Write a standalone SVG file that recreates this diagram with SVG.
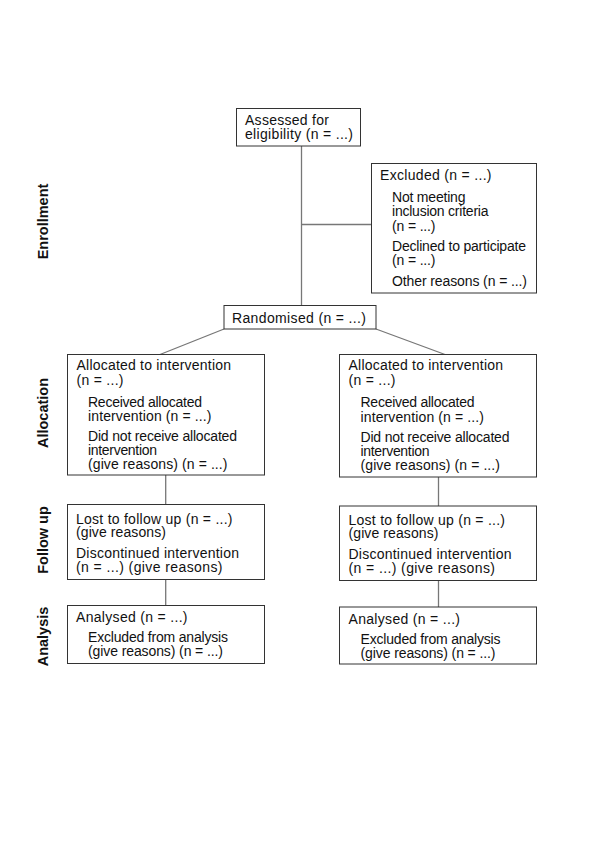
<svg xmlns="http://www.w3.org/2000/svg" width="600" height="849" viewBox="0 0 600 849">
<style>
.box{fill:#fff;stroke:#333;stroke-width:1}
.t{font-family:"Liberation Sans",Arial,sans-serif;font-size:14px;fill:#111}
.lbl{font-family:"Liberation Sans",Arial,sans-serif;font-size:14.5px;font-weight:bold;fill:#111;text-anchor:middle}
.c{stroke:#777;stroke-width:1.3;fill:none}
</style>
<rect width="600" height="849" fill="#fff"/>
<g id="connectors">
<line class="c" x1="301.5" y1="146" x2="301.5" y2="305.5"/>
<line class="c" x1="301.5" y1="224.5" x2="371.5" y2="224.5"/>
<line class="c" x1="224" y1="329" x2="160" y2="354.5"/>
<line class="c" x1="376" y1="329" x2="445" y2="354.5"/>
<line class="c" x1="165.7" y1="475" x2="165.7" y2="504.5"/>
<line class="c" x1="165.7" y1="579.5" x2="165.7" y2="605.5"/>
<line class="c" x1="438.5" y1="477" x2="438.5" y2="506"/>
<line class="c" x1="438.5" y1="580.5" x2="438.5" y2="607"/>
</g>
<g id="labels">
<text class="lbl" transform="translate(47.5,221.5) rotate(-90)">Enrollment</text>
<text class="lbl" transform="translate(47.5,413) rotate(-90)">Allocation</text>
<text class="lbl" transform="translate(47.5,540) rotate(-90)">Follow up</text>
<text class="lbl" transform="translate(47.5,636.5) rotate(-90)">Analysis</text>
</g>
<g id="assessed">
<rect class="box" x="236.5" y="108.5" width="124" height="37.5"/>
<text class="t" x="245" y="125" textLength="84" lengthAdjust="spacing">Assessed for</text>
<text class="t" x="245" y="139" textLength="108" lengthAdjust="spacing">eligibility (n = ...)</text>
</g>
<g id="excluded">
<rect class="box" x="371.5" y="163.5" width="165" height="129.5"/>
<text class="t" x="380" y="179.5" textLength="111.5" lengthAdjust="spacing">Excluded (n = ...)</text>
<text class="t" x="392" y="201.5" textLength="73.5" lengthAdjust="spacing">Not meeting</text>
<text class="t" x="392" y="216" textLength="96.5" lengthAdjust="spacing">inclusion criteria</text>
<text class="t" x="392" y="230.5" textLength="43.5" lengthAdjust="spacing">(n = ...)</text>
<text class="t" x="392" y="250.5" textLength="134" lengthAdjust="spacing">Declined to participate</text>
<text class="t" x="392" y="265" textLength="43.5" lengthAdjust="spacing">(n = ...)</text>
<text class="t" x="392" y="286" textLength="135" lengthAdjust="spacing">Other reasons (n = ...)</text>
</g>
<g id="randomised">
<rect class="box" x="224" y="305.5" width="152" height="23.5"/>
<text class="t" x="232" y="322.5" textLength="134" lengthAdjust="spacing">Randomised (n = ...)</text>
</g>
<g id="alloc-left">
<rect class="box" x="67.5" y="354.5" width="197" height="120.5"/>
<text class="t" x="76.5" y="370" textLength="154.5" lengthAdjust="spacing">Allocated to intervention</text>
<text class="t" x="76.5" y="384.5" textLength="47" lengthAdjust="spacing">(n = ...)</text>
<text class="t" x="88" y="406.5" textLength="114" lengthAdjust="spacing">Received allocated</text>
<text class="t" x="88" y="420.5" textLength="123.5" lengthAdjust="spacing">intervention  (n = ...)</text>
<text class="t" x="88" y="440.5" textLength="149" lengthAdjust="spacing">Did not receive allocated</text>
<text class="t" x="88" y="454.5" textLength="69" lengthAdjust="spacing">intervention</text>
<text class="t" x="88" y="469" textLength="139.5" lengthAdjust="spacing">(give  reasons) (n = ...)</text>
</g>
<g id="alloc-right">
<rect class="box" x="339.5" y="354.5" width="197" height="122.5"/>
<text class="t" x="348.5" y="370" textLength="154.5" lengthAdjust="spacing">Allocated to intervention</text>
<text class="t" x="348.5" y="384.5" textLength="47" lengthAdjust="spacing">(n = ...)</text>
<text class="t" x="360.5" y="407" textLength="114" lengthAdjust="spacing">Received allocated</text>
<text class="t" x="360.5" y="421.5" textLength="123.5" lengthAdjust="spacing">intervention  (n = ...)</text>
<text class="t" x="360.5" y="441.5" textLength="149" lengthAdjust="spacing">Did not receive allocated</text>
<text class="t" x="360.5" y="455.5" textLength="69" lengthAdjust="spacing">intervention</text>
<text class="t" x="360.5" y="470" textLength="139.5" lengthAdjust="spacing">(give  reasons) (n = ...)</text>
</g>
<g id="follow-left">
<rect class="box" x="67.5" y="504.5" width="197" height="75"/>
<text class="t" x="76" y="523.5" textLength="156.5" lengthAdjust="spacing">Lost to follow up (n = ...)</text>
<text class="t" x="76" y="537" textLength="90" lengthAdjust="spacing">(give reasons)</text>
<text class="t" x="76" y="558" textLength="163" lengthAdjust="spacing">Discontinued intervention</text>
<text class="t" x="76" y="572" textLength="146.5" lengthAdjust="spacing">(n = ...) (give reasons)</text>
</g>
<g id="follow-right">
<rect class="box" x="339.5" y="506" width="197" height="74.5"/>
<text class="t" x="348.5" y="524.5" textLength="156.5" lengthAdjust="spacing">Lost to follow up (n = ...)</text>
<text class="t" x="348.5" y="538" textLength="90" lengthAdjust="spacing">(give reasons)</text>
<text class="t" x="348.5" y="559" textLength="163" lengthAdjust="spacing">Discontinued intervention</text>
<text class="t" x="348.5" y="573" textLength="146.5" lengthAdjust="spacing">(n = ...) (give reasons)</text>
</g>
<g id="analysis-left">
<rect class="box" x="67.5" y="605.5" width="197" height="58"/>
<text class="t" x="76" y="622" textLength="111.5" lengthAdjust="spacing">Analysed (n = ...)</text>
<text class="t" x="88" y="642" textLength="140" lengthAdjust="spacing">Excluded from analysis</text>
<text class="t" x="88" y="656" textLength="135" lengthAdjust="spacing">(give reasons) (n = ...)</text>
</g>
<g id="analysis-right">
<rect class="box" x="339.5" y="607" width="197" height="57"/>
<text class="t" x="348.5" y="623.5" textLength="111.5" lengthAdjust="spacing">Analysed (n = ...)</text>
<text class="t" x="360.5" y="643.5" textLength="140" lengthAdjust="spacing">Excluded from analysis</text>
<text class="t" x="360.5" y="657.5" textLength="135" lengthAdjust="spacing">(give reasons) (n = ...)</text>
</g>
</svg>
